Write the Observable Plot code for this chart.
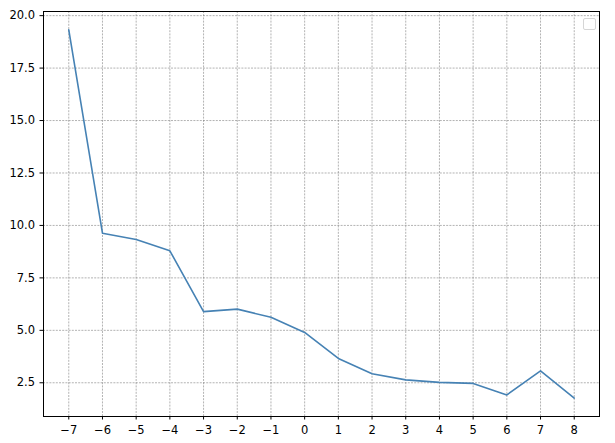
<!DOCTYPE html>
<html>
<head>
<meta charset="utf-8">
<script src="https://cdn.jsdelivr.net/npm/d3@7"></script>
<script src="https://cdn.jsdelivr.net/npm/@observablehq/plot@0.6"></script>
<style>
  html, body { margin: 0; padding: 0; background: #fff; }
  #wrap { position: relative; width: 615px; height: 443px; }
  #legend { position: absolute; left: 583px; top: 18px; width: 11px; height: 10px;
            border: 1px solid #d6d6d6; border-radius: 2px; background: #fff; }
</style>
</head>
<body>
<div id="wrap"><div id="legend"></div></div>
<script>
const xs = [-7, -6, -5, -4, -3, -2, -1, 0, 1, 2, 3, 4, 5, 6, 7, 8];
const ys = [19.32, 9.63, 9.33, 8.79, 5.89, 6.01, 5.62, 4.9, 3.66, 2.93, 2.64, 2.52, 2.47, 1.92, 3.07, 1.77];
const xTicks = [-7, -6, -5, -4, -3, -2, -1, 0, 1, 2, 3, 4, 5, 6, 7, 8];
const yTicks = [2.5, 5.0, 7.5, 10.0, 12.5, 15.0, 17.5, 20.0];

const data = xs.map((x, i) => ({x, y: ys[i]}));
const [x0, x1] = d3.extent(xs);
const [y0, y1] = d3.extent(ys);
const mx = (x1 - x0) * 0.05, my = (y1 - y0) * 0.05;

const chart = Plot.plot({
  width: 615,
  height: 443,
  marginLeft: 43,
  marginRight: 16,
  marginTop: 11,
  marginBottom: 27,
  style: { fontFamily: "DejaVu Sans", fontSize: "11.5px", color: "#000", background: "#fff" },
  x: { domain: [x0 - mx, x1 + mx] },
  y: { domain: [y0 - my, y1 + my] },
  marks: [
    Plot.gridX(xTicks, { stroke: "#808080", strokeOpacity: 1, strokeWidth: 0.6, strokeDasharray: "2,1.2" }),
    Plot.gridY(yTicks, { stroke: "#808080", strokeOpacity: 1, strokeWidth: 0.6, strokeDasharray: "2,1.2" }),
    Plot.axisX(xTicks, { tickSize: 3.5, tickPadding: 6, tickFormat: d3.format("d"), label: null, stroke: "#000", fill: "#000" }),
    Plot.axisY(yTicks, { tickSize: 3.5, tickPadding: 5, tickFormat: d3.format(".1f"), label: null, stroke: "#000", fill: "#000" }),
    Plot.line(data, { x: "x", y: "y", stroke: "#4682b4", strokeWidth: 1.6 }),
    Plot.frame({ stroke: "#000", strokeWidth: 1 })
  ]
});
document.getElementById("wrap").prepend(chart);
</script>
</body>
</html>
